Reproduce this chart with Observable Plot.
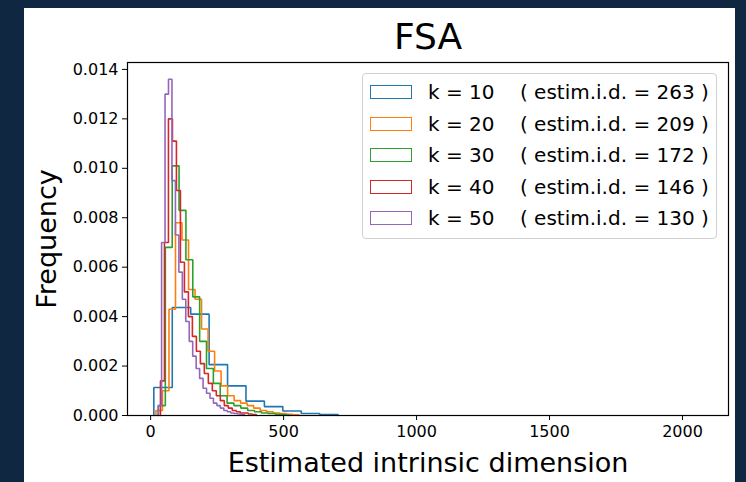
<!DOCTYPE html>
<html><head><meta charset="utf-8">
<script src="https://cdn.jsdelivr.net/npm/d3@7"></script>
<script src="https://cdn.jsdelivr.net/npm/@observablehq/plot@0.6"></script>
<style>
html,body{margin:0;padding:0;background:#0f2740;width:746px;height:482px;overflow:hidden;font-family:"DejaVu Sans",sans-serif;}
#panel{position:absolute;left:24px;top:8px;width:711px;height:474px;background:#fff;}
#panel svg{position:absolute;left:0;top:0;}
#legend{position:absolute;left:338px;top:65px;width:355px;height:166px;box-sizing:border-box;border:1px solid #d0d0d0;border-radius:4px;background:rgba(255,255,255,0.8);}
.row{position:absolute;left:0;height:0;}
.patch{position:absolute;left:7px;width:42px;height:14px;box-sizing:border-box;border:1.6px solid;background:#fff;transform:translateY(-50%);}
.lab{position:absolute;left:65px;font-size:20px;line-height:20px;white-space:pre;color:#000;transform:translateY(-50%);}
</style></head><body><div id="panel"></div><script>
const title = "FSA";
const xLabel = "Estimated intrinsic dimension";
const yLabel = "Frequency";
const kValues = [10, 20, 30, 40, 50];
const estimId = [263, 209, 172, 146, 130];
const colors = ["#1f77b4", "#ff7f0e", "#2ca02c", "#d62728", "#9467bd"];
const xTicks = [0, 500, 1000, 1500, 2000];
const yTicks = [0, 0.002, 0.004, 0.006, 0.008, 0.010, 0.012, 0.014];
// histogram bins: first edge and bin width for each k
const binStart = [12, 20, 29.5, 37, 28.2];
const binWidth = [69.3, 24.5, 25.8, 15, 13];
// densities per bin (visible bins only; the rest lie on the baseline)
const densK10 = [0.00113, 0.00437, 0.00410, 0.00206, 0.00120, 0.00058, 0.00036, 0.00018, 0.00008, 0.00004];
const densK20 = [0.0002, 0.0010, 0.0043, 0.0078, 0.0071, 0.0051, 0.0047, 0.0035, 0.0026, 0.0018, 0.0012, 0.0008, 0.0006, 0.0005, 0.0004, 0.0003, 0.0002, 0.00015, 0.0001, 0.00008, 0.00005, 0.00003];
const densK30 = [0.0004, 0.0068, 0.0101, 0.0083, 0.0063, 0.0048, 0.0030, 0.0019, 0.0013, 0.0008, 0.0005, 0.0004, 0.0003, 0.0002, 0.00015, 0.0001, 0.00008, 0.00005, 0.00003];
const densK40 = [0.0014, 0.0070, 0.0120, 0.0111, 0.0091, 0.0062, 0.0050, 0.0040, 0.0032, 0.0026, 0.0021, 0.0017, 0.0013, 0.0010, 0.0008, 0.0006, 0.0004, 0.0003, 0.0002, 0.00015, 0.0001, 0.0001, 0.00006, 0.00004];
const densK50 = [0.0004, 0.0070, 0.0130, 0.0136, 0.0095, 0.0073, 0.0058, 0.0047, 0.0038, 0.0030, 0.0024, 0.0019, 0.0015, 0.0011, 0.0009, 0.0007, 0.0005, 0.0004, 0.0003, 0.0002, 0.00015, 0.0001, 0.00008, 0.00006, 0.00004];
const densities = [densK10, densK20, densK30, densK40, densK50];

function stepOutline(s) {
  const d = densities[s], x0 = binStart[s], w = binWidth[s];
  const pts = [{x: x0, y: 0}];
  d.forEach((v, i) => {
    pts.push({x: x0 + i * w, y: v});
    pts.push({x: x0 + (i + 1) * w, y: v});
  });
  pts.push({x: x0 + d.length * w, y: 0});
  return pts;
}

const lines = kValues.map((k, s) => Plot.line(stepOutline(s), {x: "x", y: "y", stroke: colors[s], strokeWidth: 1.6, strokeLinejoin: "miter"}));

const chart = Plot.plot({
  width: 711, height: 474,
  marginLeft: 103, marginRight: 7, marginTop: 54, marginBottom: 67,
  style: {fontFamily: "DejaVu Sans", fontSize: "16px", color: "#000", background: "transparent", overflow: "visible"},
  x: {domain: [-87, 2173]},
  y: {domain: [0, 0.01428]},
  marks: [
    ...lines,
    Plot.frame({stroke: "#000", strokeWidth: 1.2}),
    Plot.axisX({ticks: xTicks, tickSize: 5, tickPadding: 5, tickFormat: d => String(d), label: null, fontSize: 16}),
    Plot.axisY({ticks: yTicks, tickSize: 5, tickPadding: 4, tickFormat: d3.format(".3f"), label: null, fontSize: 16}),
    Plot.text([title], {text: d => d, frameAnchor: "top", lineAnchor: "middle", dy: -25, fontSize: 36, fill: "#000"}),
    Plot.text([xLabel], {text: d => d, frameAnchor: "bottom", lineAnchor: "middle", dy: 48, fontSize: 27, fill: "#000"}),
    Plot.text([yLabel], {text: d => d, frameAnchor: "left", textAnchor: "middle", lineAnchor: "middle", dx: -80, rotate: -90, fontSize: 27, fill: "#000"})
  ]
});
const panel = document.getElementById("panel");
panel.appendChild(chart);

const legend = document.createElement("div");
legend.id = "legend";
const rowTops = [18, 49.5, 81, 112.5, 144];
kValues.forEach((k, s) => {
  const row = document.createElement("div");
  row.className = "row";
  row.style.top = rowTops[s] + "px";
  const p = document.createElement("div");
  p.className = "patch";
  p.style.borderColor = colors[s];
  const t = document.createElement("div");
  t.className = "lab";
  t.textContent = `k = ${k}    ( estim.i.d. = ${estimId[s]} )`;
  row.appendChild(p); row.appendChild(t);
  legend.appendChild(row);
});
panel.appendChild(legend);
</script></body></html>
